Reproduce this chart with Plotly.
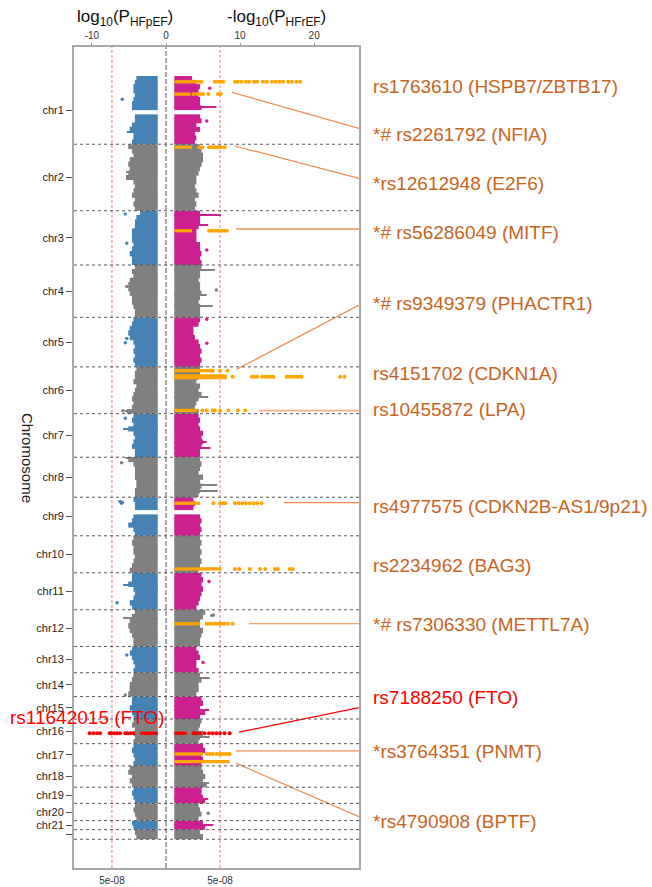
import numpy as np
import plotly.graph_objects as go

# ---------------- data ----------------
CHROMS = [f"chr{i}" for i in range(1, 23)]
CHR_LEN_MB = [249, 243, 198, 191, 181, 171, 159, 146, 141, 135, 135, 134,
              96, 87, 82, 90, 81, 78, 59, 63, 33, 35]
TICK_TEXT = [f"chr{i}" for i in range(1, 22)] + [""]

GW_LOGP = 7.3  # -log10(5e-8)
X_TICKS_TOP = [-10, 0, 10, 20]
X_TICKS_BOTTOM = [-GW_LOGP, GW_LOGP]
X_TICKTEXT_BOTTOM = ["5e-08", "5e-08"]

# max |log10 P| of the dense SNP cloud, equal segments along each chromosome (0 = no SNPs)
HFPEF_ENV = [
    [4.0, 4.2, 4.4, 4.4, 4.2, 4.4, 4.6, 4.6, 0, 4.2, 4.2, 4.6, 4.9, 4.4, 4.4, 4.6],
    [5.1, 4.6, 4.4, 4.9, 5.1, 4.9, 5.1, 5.4, 4.4, 4.2, 4.4, 4.6, 4.2, 4.4, 4.2],
    [3.5, 4.0, 4.2, 4.2, 4.6, 4.6, 4.6, 4.4, 4.6, 4.9, 4.6, 4.6],
    [4.2, 4.6, 4.4, 4.9, 5.1, 5.1, 4.9, 4.6, 4.6, 4.4, 4.2, 4.2],
    [4.4, 4.6, 4.9, 5.1, 4.9, 4.4, 4.2, 4.4, 4.2, 4.4, 4.2],
    [4.0, 4.2, 4.2, 4.4, 4.0, 4.2, 4.4, 4.6, 4.4, 4.6, 5.3],
    [4.4, 4.6, 4.4, 5.1, 4.4, 4.2, 4.4, 4.6, 4.2, 4.2],
    [5.1, 4.4, 4.2, 4.2, 4.2, 4.0, 4.0, 4.2, 4.2],
    [4.4, 4.2, 4.2, 0, 4.4, 4.6, 5.1, 4.4, 4.2],
    [4.4, 4.6, 4.4, 4.4, 4.2, 4.4, 4.6, 4.9],
    [4.6, 4.6, 5.1, 4.4, 4.2, 4.4, 4.9, 4.6],
    [4.2, 4.6, 4.9, 5.1, 4.9, 4.6, 4.4, 4.4],
    [4.6, 4.9, 4.6, 4.4, 4.2, 4.4],
    [4.4, 4.6, 4.9, 4.9, 5.1],
    [4.6, 4.6, 4.9, 4.6, 4.4],
    [4.4, 4.6, 4.2, 4.4, 4.2, 4.4],
    [4.4, 4.6, 4.4, 4.2, 4.4],
    [4.9, 5.1, 4.6, 4.9, 4.6],
    [4.4, 4.6, 4.4, 4.2],
    [4.2, 4.4, 4.2, 4.0],
    [4.6, 4.4],
    [4.2, 4.0],
]
HFREF_ENV = [
    [3.5, 4.1, 4.6, 4.4, 4.4, 4.6, 4.6, 4.8, 0, 4.6, 4.8, 4.1, 4.6, 3.9, 4.1, 3.9],
    [4.6, 4.8, 5.0, 5.0, 4.8, 4.6, 4.4, 4.1, 4.1, 3.9, 4.1, 4.4, 3.9, 4.1, 3.9],
    [4.6, 4.6, 4.6, 4.4, 4.1, 4.1, 4.1, 4.6, 4.6, 4.8, 4.6, 4.8],
    [4.8, 4.6, 4.6, 4.4, 4.6, 4.6, 4.8, 4.6, 4.4, 4.6, 4.6, 4.6],
    [4.6, 4.4, 3.7, 3.7, 3.9, 4.4, 4.6, 4.8, 4.6, 4.8, 4.6],
    [4.6, 4.6, 4.4, 4.1, 4.6, 4.4, 4.8, 4.4, 4.1, 3.9, 4.4],
    [4.4, 4.6, 4.4, 4.6, 5.0, 4.8, 5.0, 4.8, 4.6, 4.6],
    [4.6, 4.8, 4.6, 4.4, 5.0, 4.6, 4.8, 4.6, 4.4],
    [3.7, 3.9, 3.7, 0, 4.6, 4.8, 4.6, 4.8, 4.6],
    [4.6, 4.8, 4.6, 4.8, 4.6, 4.8, 4.6, 4.4],
    [4.8, 5.0, 4.8, 5.0, 4.8, 4.6, 4.4, 4.1],
    [5.3, 5.0, 4.6, 4.6, 5.0, 4.8, 4.6, 4.6],
    [4.1, 4.4, 4.6, 4.1, 4.1, 4.4],
    [4.6, 4.8, 4.4, 4.4, 4.1],
    [4.8, 5.0, 4.6, 5.3, 4.6],
    [4.8, 4.6, 4.4, 5.0, 4.6, 4.4],
    [5.0, 5.3, 4.8, 5.0, 4.8],
    [4.8, 5.0, 5.3, 5.0, 5.5],
    [4.8, 4.8, 5.0, 5.3],
    [4.4, 4.6, 4.8, 4.4],
    [5.0, 5.3],
    [4.6, 5.0],
]

# streaks of SNPs reaching beyond the cloud (side -1 = HFpEF, +1 = HFrEF)
STREAK_CHR = [1, 6, 7, 8, 11, 12, 2,
              1, 3, 3, 4, 4, 4, 6, 7, 7, 8, 8, 14, 15, 16, 18, 19, 21]
STREAK_POS = [203, 163, 55, 4, 44, 29, 100,
              112, 15.5, 52, 18, 110, 149, 109, 102, 127, 101, 123, 19, 49, 64, 64, 44, 16]
STREAK_SIDE = [-1, -1, -1, -1, -1, -1, -1,
               1, 1, 1, 1, 1, 1, 1, 1, 1, 1, 1, 1, 1, 1, 1, 1, 1]
STREAK_VAL = [5.3, 5.5, 5.8, 5.5, 5.8, 5.8, 5.4,
              6.8, 7.4, 5.7, 6.6, 5.5, 6.3, 5.7, 5.5, 6.0, 6.9, 7.0, 5.9, 5.8, 5.9, 5.8, 5.7, 6.4]

# isolated single SNPs
POINT_CHR = [1, 3, 3, 4, 5, 5, 6, 7, 8, 9, 9, 9, 11, 13, 14,
             1, 1, 3, 4, 5, 5, 11, 12, 12, 13, 20]
POINT_POS = [85, 12, 119, 79, 77, 93, 160, 17, 20, 16, 19, 22, 109, 31, 81,
             45, 164, 143, 91, 7, 95, 32, 19, 21, 59, 36]
POINT_SIDE = [-1] * 15 + [1] * 11
POINT_VAL = [5.9, 5.5, 5.3, 5.3, 5.3, 5.5, 5.8, 5.5, 6.0, 6.2, 5.9, 6.0, 6.6, 5.3, 5.5,
             5.9, 5.5, 5.5, 6.8, 5.5, 5.5, 5.8, 6.4, 6.2, 5.0, 5.7]

# highlighted loci: dense LD block up to LOCUS_DENSE, plus individual SNPs beyond it
LOCUS_NAME = ["HSPB7", "NFIA", "E2F6", "MITF", "PHACTR1", "CDKN1A", "LPA",
              "9p21", "BAG3", "METTL7A", "FTO", "PNMT", "BPTF", "FTO_pEF"]
LOCUS_CHR = [1, 1, 2, 3, 6, 6, 6, 9, 10, 12, 16, 17, 17, 16]
LOCUS_POS = [21, 66, 11, 73, 14, 36, 159, 22, 121, 51, 52, 37.6, 65.7, 52]
LOCUS_SIDE = [1, 1, 1, 1, 1, 1, 1, 1, 1, 1, 1, 1, 1, -1]
LOCUS_DENSE = [5.0, 3.3, 3.5, 3.5, 5.3, 8.2, 4.2, 4.6, 7.5, 4.6, 2.8, 5.0, 8.6, 3.5]
LOCUS_DOTS = [
    [6.6, 7.0, 7.4, 7.7, 9.3, 9.7, 10.2, 10.8, 11.2, 11.9, 12.3, 13.1, 13.6,
     14.3, 14.8, 15.3, 15.8, 16.5, 17.0, 17.6, 18.1],
    [3.7, 4.2, 4.6, 5.0, 5.7, 7.0, 7.4],
    [4.5, 4.9, 5.8, 6.2, 6.6, 7.0, 7.4, 7.9],
    [5.8, 6.2, 6.6, 7.0, 7.4, 7.8, 8.2],
    [5.5, 5.9, 6.3, 7.3, 8.3],
    [9.0, 11.6, 11.9, 12.3, 13.0, 13.4, 13.8, 14.2, 14.5, 16.3, 16.7, 17.1,
     17.5, 17.9, 18.3, 23.5, 24.1],
    [4.9, 5.5, 6.3, 6.6, 7.3, 8.4, 9.7, 10.7],
    [6.4, 7.3, 7.7, 8.0, 9.3, 9.8, 10.3, 10.8, 11.3, 11.8, 12.3, 12.9],
    [9.3, 9.9, 11.3, 12.7, 13.4, 14.7, 15.1, 16.7, 17.1],
    [5.5, 5.9, 6.3, 6.7, 7.1, 7.5, 7.9, 8.4, 9.0],
    [3.7, 4.1, 4.6, 5.2, 5.8, 6.3, 6.8, 7.3, 7.9, 8.6],
    [5.5, 5.9, 6.3, 6.8, 7.2, 7.6, 8.0, 8.4, 8.6],
    [],
    [4.4, 4.8, 5.2, 5.5, 6.2, 6.6, 7.0, 7.4, 7.6, 8.9, 9.3, 9.8, 10.3],
]

# labels (genome position in cumulative Mb)
LABEL_TEXT = ["rs1763610 (HSPB7/ZBTB17)", "*# rs2261792 (NFIA)", "*rs12612948 (E2F6)",
              "*# rs56286049 (MITF)", "*# rs9349379 (PHACTR1)", "rs4151702 (CDKN1A)",
              "rs10455872 (LPA)", "rs4977575 (CDKN2B-AS1/9p21)", "rs2234962 (BAG3)",
              "*# rs7306330 (METTL7A)", "rs7188250 (FTO)", "*rs3764351 (PNMT)",
              "*rs4790908 (BPTF)"]
LABEL_Y_MB = [36.5, 215, 392, 572, 830, 1085, 1217, 1573, 1788, 2001, 2271, 2467, 2723]
LABEL_IS_FTO = [False] * 10 + [True] + [False] * 2
LEFT_LABEL_TEXT = "rs11642015 (FTO)"
LEFT_LABEL_Y_MB = 2344

# connectors: start (value, cumulative Mb) -> right frame at label height
CONN_X0 = [8.9, 9.3, 9.45, 9.54, 12.55, 15.9, 11.2, 9.85, 9.45, 9.45]
CONN_Y0 = [59.5, 255.6, 558.6, 1071, 1222, 1558, 2000, 2396, 2464.6, 2509.5]
CONN_Y1 = [191, 373.5, 558.6, 836, 1222, 1558, 2000, 2306.5, 2464.6, 2704.5]
CONN_IS_FTO = [False] * 7 + [True] + [False] * 2
CONN_SOFT = [False, False, True, False, True, False, False, False, True, False]

# ---------------- styling ----------------
BLUE = "#4682B4"
MAGENTA = "#CD2090"
GREY = "#808080"
ORANGE = "#FFA500"
RED = "#FF0000"
LABEL_COL = "#C8641E"
LINE_COL = "#F28A4A"
LINE_SOFT = "#F6AE80"
FONT = "Liberation Sans, Arial, Helvetica, sans-serif"
BASE = 1.12
XR = [-12.42, 26.05]
YR = [2892, -106]
SEG_OVERLAP = 3.0  # Mb of overlap between neighbouring cloud segments (hides seams)

offsets = np.concatenate([[0], np.cumsum(CHR_LEN_MB)[:-1]])
mids = offsets + np.array(CHR_LEN_MB) / 2.0
ends = offsets + np.array(CHR_LEN_MB)


def gpos(c, p):
    return offsets[c - 1] + p


fig = go.Figure()


def add_bars(y, w, v, side, color):
    y = np.asarray(y, float)
    v = np.asarray(v, float)
    if side < 0:
        base = -v
    else:
        base = np.full_like(v, BASE)
    fig.add_trace(go.Bar(orientation="h", y=y, x=v - BASE, base=base, width=w,
                         marker=dict(color=color, line=dict(width=0)),
                         hoverinfo="skip", showlegend=False))


# body of the clouds
for env, side, col in [(HFPEF_ENV, -1, BLUE), (HFREF_ENV, 1, MAGENTA)]:
    for parity, c in [(0, col), (1, GREY)]:
        ys, ws, vs = [], [], []
        for ci, vals in enumerate(env):
            if ci % 2 != parity:
                continue
            n = len(vals)
            seg = CHR_LEN_MB[ci] / n
            for k, v in enumerate(vals):
                if v <= 0:
                    continue
                lo = offsets[ci] + k * seg
                hi = lo + seg
                if k > 0 and vals[k - 1] > 0:
                    lo -= SEG_OVERLAP / 2
                if k < n - 1 and vals[k + 1] > 0:
                    hi += SEG_OVERLAP / 2
                ys.append((lo + hi) / 2)
                ws.append(hi - lo)
                vs.append(v)
        add_bars(ys, ws, vs, side, c)

# streaks
for i in range(len(STREAK_CHR)):
    c = STREAK_CHR[i]
    col = (BLUE if STREAK_SIDE[i] < 0 else MAGENTA) if c % 2 == 1 else GREY
    add_bars([gpos(c, STREAK_POS[i])], [4.0], [STREAK_VAL[i]], STREAK_SIDE[i], col)

# locus dense blocks
for i in range(len(LOCUS_CHR)):
    col = RED if LOCUS_NAME[i].startswith("FTO") else ORANGE
    thick = 18 if LOCUS_NAME[i] == "CDKN1A" else 12
    add_bars([gpos(LOCUS_CHR[i], LOCUS_POS[i])], [thick], [LOCUS_DENSE[i]], LOCUS_SIDE[i], col)

# isolated points
px_, py_, pc_ = [], [], []
for i in range(len(POINT_CHR)):
    c = POINT_CHR[i]
    col = (BLUE if POINT_SIDE[i] < 0 else MAGENTA) if c % 2 == 1 else GREY
    px_.append(POINT_SIDE[i] * POINT_VAL[i])
    py_.append(gpos(c, POINT_POS[i]))
    pc_.append(col)
fig.add_trace(go.Scatter(x=px_, y=py_, mode="markers",
                         marker=dict(size=3.5, color=pc_, line=dict(width=0)),
                         hoverinfo="skip", showlegend=False))

# locus individual SNPs
for i in range(len(LOCUS_CHR)):
    if not LOCUS_DOTS[i]:
        continue
    col = RED if LOCUS_NAME[i].startswith("FTO") else ORANGE
    xs = [LOCUS_SIDE[i] * v for v in LOCUS_DOTS[i]]
    ys = [gpos(LOCUS_CHR[i], LOCUS_POS[i])] * len(xs)
    fig.add_trace(go.Scatter(x=xs, y=ys, mode="markers",
                             marker=dict(size=4, color=col, line=dict(width=0)),
                             hoverinfo="skip", showlegend=False))

# connectors
for i in range(len(CONN_X0)):
    col = RED if CONN_IS_FTO[i] else (LINE_SOFT if CONN_SOFT[i] else LINE_COL)
    fig.add_trace(go.Scatter(x=[CONN_X0[i], XR[1]], y=[CONN_Y0[i], CONN_Y1[i]], mode="lines",
                             line=dict(color=col, width=1.8 if CONN_SOFT[i] else 1.2),
                             hoverinfo="skip", showlegend=False))

# dummy trace for top axis
fig.add_trace(go.Scatter(x=[0], y=[0], xaxis="x2", yaxis="y", mode="markers",
                         marker=dict(opacity=0), hoverinfo="skip", showlegend=False))

shapes = []
for e in ends:
    shapes.append(dict(type="line", xref="x", yref="y", x0=XR[0], x1=XR[1], y0=e, y1=e,
                       line=dict(color="#555555", width=1, dash="dot"), layer="above"))
for xv in (-GW_LOGP, GW_LOGP):
    shapes.append(dict(type="line", xref="x", yref="paper", x0=xv, x1=xv, y0=0, y1=1,
                       line=dict(color="#E07A7A", width=1, dash="3px,2px"), layer="below"))
shapes.append(dict(type="line", xref="x", yref="paper", x0=0, x1=0, y0=0, y1=1,
                   line=dict(color="#555555", width=1, dash="5px,2px"), layer="below"))

annotations = []
for t, yv, fto in zip(LABEL_TEXT, LABEL_Y_MB, LABEL_IS_FTO):
    annotations.append(dict(text=t, xref="paper", x=1.042, yref="y", y=yv,
                            xanchor="left", yanchor="middle", showarrow=False,
                            font=dict(size=19, color=RED if fto else LABEL_COL, family=FONT)))
annotations.append(dict(text=LEFT_LABEL_TEXT, xref="paper", x=-0.232, yref="y", y=LEFT_LABEL_Y_MB,
                        xanchor="left", yanchor="middle", showarrow=False,
                        font=dict(size=19, color=RED, family=FONT)))
annotations.append(dict(text="log<sub>10</sub>(P<sub>HFpEF</sub>)", xref="paper", x=0.179,
                        yref="paper", y=1.035, xanchor="center", yanchor="middle", showarrow=False,
                        font=dict(size=17, color="#111", family=FONT)))
annotations.append(dict(text="-log<sub>10</sub>(P<sub>HFrEF</sub>)", xref="paper", x=0.712,
                        yref="paper", y=1.035, xanchor="center", yanchor="middle", showarrow=False,
                        font=dict(size=17, color="#111", family=FONT)))
annotations.append(dict(text="Chromosome", xref="paper", x=-0.163, yref="paper", y=0.5,
                        xanchor="center", yanchor="middle", textangle=90, showarrow=False,
                        font=dict(size=15, color="#222", family=FONT)))

fig.update_layout(
    width=652, height=887,
    margin=dict(l=74, r=293, t=47, b=19, autoexpand=False),
    paper_bgcolor="white", plot_bgcolor="white",
    showlegend=False, barmode="overlay",
    font=dict(family=FONT, color="#222"),
    xaxis=dict(range=XR, tickvals=X_TICKS_BOTTOM, ticktext=X_TICKTEXT_BOTTOM,
               ticks="outside", ticklen=2, tickcolor="rgba(0,0,0,0)",
               tickfont=dict(size=10, color="#333"), showline=True, mirror=True,
               linecolor="#A8A8A8", linewidth=2, showgrid=False, zeroline=False,
               automargin=False),
    xaxis2=dict(range=XR, overlaying="x", side="top", anchor="y",
                tickvals=X_TICKS_TOP, ticktext=[str(v) for v in X_TICKS_TOP],
                ticks="outside", ticklen=3, tickcolor="#999",
                tickfont=dict(size=10, color="#333"), showgrid=False, zeroline=False,
                showline=False, automargin=False),
    yaxis=dict(range=YR, tickvals=list(mids), ticktext=TICK_TEXT, ticks="outside",
               ticklen=6, tickcolor="#555", tickfont=dict(size=11, color="#222"),
               showline=True, mirror=True, linecolor="#A8A8A8", linewidth=2,
               showgrid=False, zeroline=False, automargin=False),
    shapes=shapes,
    annotations=annotations,
)

fig.write_html("out.html")
